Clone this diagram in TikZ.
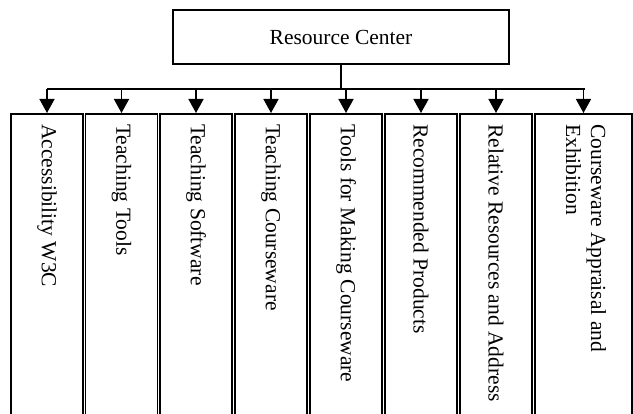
\documentclass[tikz,border=0pt]{standalone}
\usepackage{fontspec}
\setmainfont{Liberation Serif}
\usetikzlibrary{arrows.meta}
\begin{document}
\begin{tikzpicture}[x=1pt,y=-1pt,
  every node/.style={font=\fontsize{21.5}{25}\selectfont},
  topbox/.style={draw, line width=1.6pt, minimum width=336pt, minimum height=54pt, inner sep=0pt},
  childbox/.style={draw, line width=1.6pt, minimum height=310pt, anchor=north, inner sep=0pt},
  vtext/.style={rotate=-90, anchor=west, align=left, inner sep=0pt},
  conn/.style={line width=1.6pt},
  arr/.style={line width=1.6pt, -{Triangle[width=15pt,length=14pt]}}]
\useasboundingbox (0,0) rectangle (633,414);
\clip (0,0) rectangle (633,414);
\node[topbox] (rc) at (341,37) {Resource Center};
\coordinate (barL) at (47,89);
\coordinate (barR) at (585,89);
\node[childbox, minimum width=72pt] (b1) at (47,113) {};
\node[childbox, minimum width=72pt] (b2) at (121.5,113) {};
\node[childbox, minimum width=72pt] (b3) at (196,113) {};
\node[childbox, minimum width=72pt] (b4) at (271,113) {};
\node[childbox, minimum width=72pt] (b5) at (346,113) {};
\node[childbox, minimum width=72pt] (b6) at (421,113) {};
\node[childbox, minimum width=72pt] (b7) at (496,113) {};
\node[childbox, minimum width=97pt] (b8) at (583.5,113) {};
\node[vtext] (t1) at (47,124) {Accessibility W3C};
\node[vtext] (t2) at (121.5,124) {Teaching Tools};
\node[vtext] (t3) at (196,124) {Teaching Software};
\node[vtext] (t4) at (271,124) {Teaching Courseware};
\node[vtext] (t5) at (346,124) {Tools for Making Courseware};
\node[vtext] (t6) at (421,124) {Recommended Products};
\node[vtext] (t7) at (496,124) {Relative Resources and Address};
\node[vtext] (t8) at (586,124) {Courseware Appraisal and\\Exhibition};
\draw[line width=2.4pt] (rc.south) -- (rc.south |- barL);
\draw[conn] (barL) -- (barR);
\foreach \b in {b1,b2,b3,b4,b5,b6,b7,b8}
  \draw[arr] (\b.north |- barL) -- (\b.north);
\end{tikzpicture}
\end{document}
